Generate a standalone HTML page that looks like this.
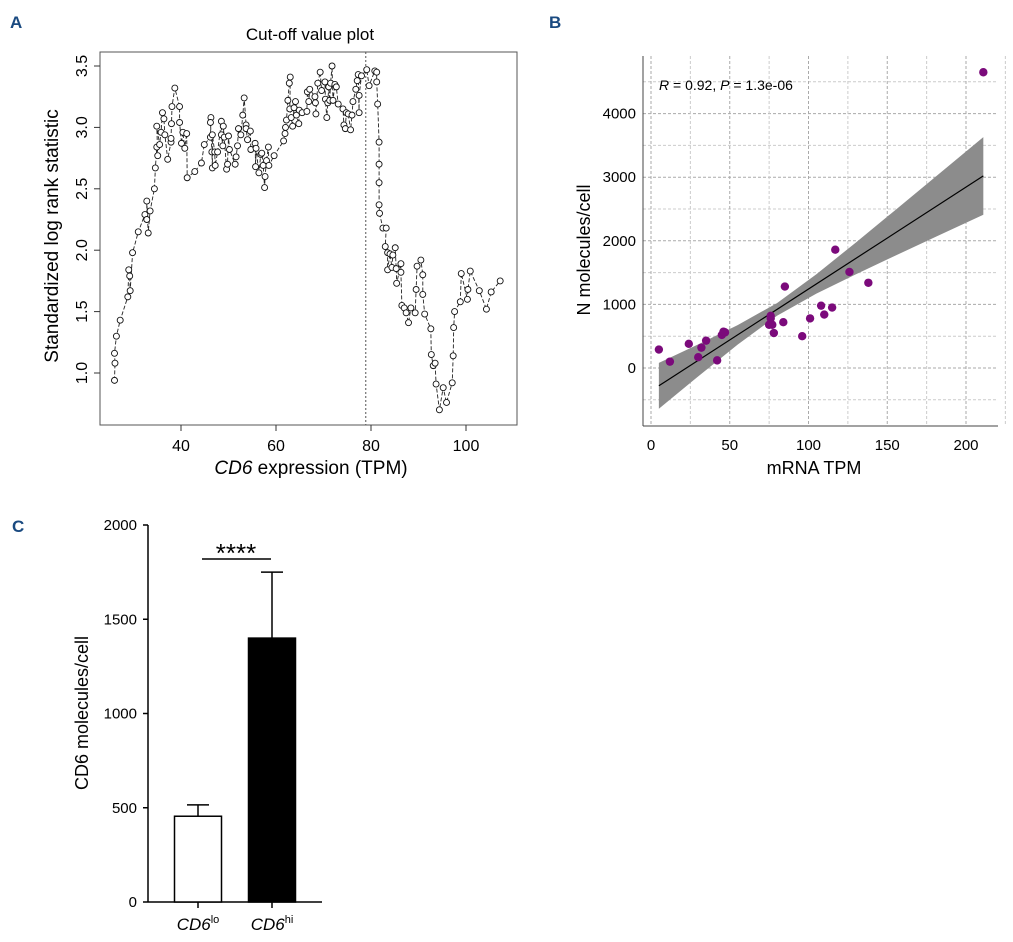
<!DOCTYPE html>
<html><head><meta charset="utf-8"><style>
body{margin:0;background:#fff;}
svg{display:block;font-family:"Liberation Sans",Arial,sans-serif;}
</style></head><body>
<svg id="fig" width="1013" height="942" viewBox="0 0 1013 942">
<text x="10" y="28" font-size="17" font-weight="bold" fill="#1a4a80">A</text>
<text x="549" y="28" font-size="17" font-weight="bold" fill="#1a4a80">B</text>
<text x="12" y="532" font-size="17" font-weight="bold" fill="#1a4a80">C</text>
<g id="pa"></g>
<g id="pb"></g>
<g id="pc"></g>
</svg>
<script>
// ---- Panel A data ----
const aX=[26.0,26.1,26.0,26.4,27.2,28.8,29.0,29.2,29.3,29.8,31.0,32.4,32.8,32.8,33.1,33.5,34.4,34.6,34.9,35.1,34.9,35.5,35.8,36.1,36.4,36.6,37.2,37.9,37.9,38.0,38.1,38.7,39.7,39.7,40.1,40.4,40.8,41.2,41.3,42.9,44.3,44.9,46.2,46.3,46.2,46.5,46.6,46.6,47.1,47.2,47.7,48.5,48.5,48.8,48.9,49.1,49.6,49.8,50.0,50.2,51.4,51.6,51.9,52.1,52.6,53.0,53.3,53.7,53.7,54.0,54.6,54.7,55.6,55.7,55.8,56.4,56.8,57.0,57.3,57.6,57.7,58.0,58.4,58.5,59.6,61.6,61.9,62.0,62.2,62.5,62.8,63.0,62.9,63.2,63.5,63.8,64.1,64.3,64.8,64.9,65.5,66.5,66.6,66.9,67.1,68.2,68.3,68.4,68.8,69.3,69.6,70.3,70.4,70.7,70.9,71.1,71.3,71.5,71.8,72.0,72.4,72.7,73.1,74.1,74.3,74.6,74.8,75.2,75.7,76.0,76.2,76.8,77.1,77.3,77.5,77.5,78.0,79.1,79.6,80.8,81.2,81.2,81.4,81.7,81.7,81.7,81.7,81.8,82.5,83.2,83.0,83.5,83.5,84.0,84.4,84.6,85.1,85.3,85.4,86.3,86.3,86.5,87.0,87.4,87.9,88.4,89.3,89.5,89.7,90.5,90.9,90.9,91.3,92.6,92.7,93.1,93.5,93.7,94.4,95.2,95.9,97.1,97.3,97.4,97.6,98.8,99.0,100.3,100.4,100.9,102.8,104.3,105.3,107.2];
const aY=[0.94,1.08,1.16,1.30,1.43,1.62,1.84,1.79,1.67,1.98,2.15,2.29,2.25,2.40,2.14,2.32,2.50,2.67,2.84,2.77,3.01,2.86,2.96,3.12,3.07,2.94,2.74,2.88,2.91,3.03,3.17,3.32,3.17,3.04,2.87,2.96,2.83,2.95,2.59,2.64,2.71,2.86,2.92,3.08,3.04,2.80,2.67,2.94,2.80,2.69,2.80,3.05,2.94,2.85,3.01,2.92,2.66,2.70,2.93,2.82,2.70,2.76,2.85,2.99,2.94,3.10,3.24,3.02,2.99,2.90,2.97,2.82,2.87,2.68,2.83,2.63,2.78,2.79,2.69,2.51,2.60,2.73,2.84,2.69,2.77,2.89,2.95,3.00,3.06,3.22,3.36,3.41,3.15,3.08,3.01,3.16,3.21,3.10,3.03,3.14,3.12,3.13,3.29,3.21,3.31,3.25,3.20,3.11,3.36,3.45,3.30,3.37,3.23,3.08,3.20,3.33,3.22,3.36,3.50,3.22,3.35,3.33,3.19,3.15,3.02,2.99,3.12,3.11,2.98,3.10,3.21,3.31,3.38,3.43,3.12,3.26,3.42,3.47,3.34,3.46,3.45,3.37,3.19,2.88,2.70,2.55,2.37,2.30,2.18,2.18,2.03,1.98,1.84,1.97,1.86,1.96,2.02,1.85,1.73,1.89,1.82,1.55,1.53,1.49,1.41,1.53,1.49,1.68,1.87,1.92,1.80,1.64,1.48,1.36,1.15,1.06,1.08,0.91,0.70,0.88,0.76,0.92,1.14,1.37,1.50,1.58,1.81,1.60,1.68,1.83,1.67,1.52,1.66,1.75];
const aXTicks=[40,60,80,100];
const aYTicks=["1.0","1.5","2.0","2.5","3.0","3.5"];
const aCutoff=[78.9];
// ---- Panel B data ----
const bX=[5,12,24,30,32,35,42,45,46,47,75,76,76,77,78,84,85,96,101,108,110,115,117,126,138,211];
const bY=[290,100,380,170,320,430,120,520,570,560,680,780,820,680,550,720,1280,500,780,980,840,950,1860,1510,1340,4650];
const bFitX=[5,211];
const bFitY=[-280,3020];
const bBandX=[5,30,55,80,105,130,155,180,211];
const bBandLo=[-640,-131,368,821,1170,1472,1765,2053,2410];
const bBandHi=[80,372,674,1021,1474,1972,2481,2993,3630];
const bXTicks=[0,50,100,150,200];
const bYTicks=[0,1000,2000,3000,4000];
// ---- Panel C data ----
const cCats=["lo","hi"];
const cMeans=[455,1400];
const cErr=[60,350];
const cYTicks=[0,500,1000,1500,2000];

const NS="http://www.w3.org/2000/svg";
function mk(parent,tag,attrs,text){const e=document.createElementNS(NS,tag);for(const k in attrs)e.setAttribute(k,attrs[k]);if(text!==undefined)e.textContent=text;parent.appendChild(e);return e;}

// ===== Panel A =====
(function(){
const g=document.getElementById('pa');
const ax=v=>181+(v-40)*4.75, ay=v=>373-(v-1.0)*122.8;
let t=mk(g,'text',{x:310,y:40,'font-size':17,'text-anchor':'middle'},'Cut-off value plot');

let r=mk(g,'rect',{x:100,y:52,width:417,height:373,fill:'none',stroke:'#555','stroke-width':1});

aXTicks.forEach(v=>{const x=ax(v);mk(g,'line',{x1:x,y1:425,x2:x,y2:431,stroke:'#333'});
 const l=mk(g,'text',{x:x,y:451,'font-size':16,'text-anchor':'middle'},String(v));
 });
aYTicks.forEach(s=>{const y=ay(+s);mk(g,'line',{x1:94,y1:y,x2:100,y2:y,stroke:'#333'});
 const l=mk(g,'text',{x:87,y:y,'font-size':16,'text-anchor':'middle',transform:`rotate(-90 87 ${y})`},s);
 });
const xl=mk(g,'text',{x:311,y:474,'font-size':19,'text-anchor':'middle'});
xl.innerHTML='<tspan font-style="italic">CD6</tspan> expression (TPM)';

const yl=mk(g,'text',{x:58,y:236,'font-size':19,'text-anchor':'middle',transform:'rotate(-90 58 236)'},'Standardized log rank statistic');

aCutoff.forEach(v=>{const c=mk(g,'line',{x1:ax(v),y1:52,x2:ax(v),y2:425,stroke:'#555','stroke-dasharray':'2,2'});
 });
let pts=aX.map((x,i)=>ax(x).toFixed(1)+','+ay(aY[i]).toFixed(1)).join(' ');
const pl=mk(g,'polyline',{points:pts,fill:'none',stroke:'#222','stroke-width':0.9,'stroke-dasharray':'4,2'});

aX.forEach((x,i)=>{const c=mk(g,'circle',{cx:ax(x),cy:ay(aY[i]),r:3,fill:'#fff',stroke:'#111','stroke-width':0.9});
 });
})();

// ===== Panel B =====
(function(){
const g=document.getElementById('pb');
const bx=v=>651+v*1.575, by=v=>368-v*0.0636;
for(let v=-500;v<=4500;v+=500){const y=by(v);const major=v%1000===0;
 mk(g,'line',{x1:643,y1:y,x2:998,y2:y,stroke:major?'#aaa':'#ccc','stroke-dasharray':'3,2','stroke-width':1});}
for(let v=0;v<=225;v+=25){const x=bx(v);const major=v%50===0;
 mk(g,'line',{x1:x,y1:56,x2:x,y2:426,stroke:major?'#aaa':'#ccc','stroke-dasharray':'3,2','stroke-width':1});}
let band=bBandX.map((x,i)=>bx(x)+','+by(bBandHi[i])).join(' ')+' '+bBandX.slice().reverse().map((x,i)=>bx(x)+','+by(bBandLo[bBandX.length-1-i])).join(' ');
const bd=mk(g,'polygon',{points:band,fill:'#8c8c8c'});

const fl=mk(g,'line',{x1:bx(bFitX[0]),y1:by(bFitY[0]),x2:bx(bFitX[1]),y2:by(bFitY[1]),stroke:'#000','stroke-width':1.2});

mk(g,'line',{x1:643,y1:56,x2:643,y2:426,stroke:'#444'});
mk(g,'line',{x1:643,y1:426,x2:998,y2:426,stroke:'#444'});
bXTicks.forEach(v=>{const l=mk(g,'text',{x:bx(v),y:450,'font-size':15,'text-anchor':'middle'},String(v));
 });
bYTicks.forEach(v=>{const l=mk(g,'text',{x:636,y:by(v)+5,'font-size':15,'text-anchor':'end'},String(v));
 });
bX.forEach((x,i)=>{const c=mk(g,'circle',{cx:bx(x),cy:by(bY[i]),r:4.2,fill:'#7b0a7b'});
 });
const st=mk(g,'text',{x:659,y:90,'font-size':14});
st.innerHTML='<tspan font-style="italic">R</tspan> = 0.92,  <tspan font-style="italic">P</tspan> = 1.3e-06';

const xl=mk(g,'text',{x:814,y:474,'font-size':18,'text-anchor':'middle'},'mRNA TPM');

const yl=mk(g,'text',{x:590,y:250,'font-size':18,'text-anchor':'middle',transform:'rotate(-90 590 250)'},'N molecules/cell');

})();

// ===== Panel C =====
(function(){
const g=document.getElementById('pc');
const cy=v=>902-v*0.1885;
const centers=[198,272], bw=47;
mk(g,'line',{x1:148,y1:525,x2:148,y2:902,stroke:'#000','stroke-width':1.5});
mk(g,'line',{x1:148,y1:902,x2:322,y2:902,stroke:'#000','stroke-width':1.5});
cYTicks.forEach(v=>{mk(g,'line',{x1:143,y1:cy(v),x2:148,y2:cy(v),stroke:'#000','stroke-width':1.5});
 const l=mk(g,'text',{x:137,y:cy(v)+5,'font-size':15,'text-anchor':'end'},String(v));
 });
cCats.forEach((c,i)=>{const x=centers[i];
 mk(g,'line',{x1:x,y1:902,x2:x,y2:908,stroke:'#000','stroke-width':1.5});
 mk(g,'line',{x1:x,y1:cy(cMeans[i]),x2:x,y2:cy(cMeans[i]+cErr[i]),stroke:'#000','stroke-width':1.5});
 mk(g,'line',{x1:x-11,y1:cy(cMeans[i]+cErr[i]),x2:x+11,y2:cy(cMeans[i]+cErr[i]),stroke:'#000','stroke-width':1.5});
 const b=mk(g,'rect',{x:x-bw/2,y:cy(cMeans[i]),width:bw,height:902-cy(cMeans[i]),fill:i?'#000':'#fff',stroke:'#000','stroke-width':1.5});
 
 const l=mk(g,'text',{x:x,y:930,'font-size':17,'text-anchor':'middle'});
 l.innerHTML='<tspan font-style="italic">CD6</tspan><tspan font-size="11" dy="-7">'+c+'</tspan>';
 });
const sb=mk(g,'line',{x1:202,y1:559,x2:271,y2:559,stroke:'#000','stroke-width':1.5});

const s=mk(g,'text',{x:236,y:562,'font-size':26,'text-anchor':'middle'},'****');

const yl=mk(g,'text',{x:88,y:713,'font-size':18,'text-anchor':'middle',transform:'rotate(-90 88 713)'},'CD6 molecules/cell');

})();
</script>
</body></html>
